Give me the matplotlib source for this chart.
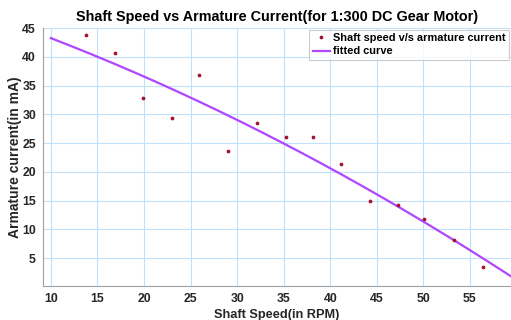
import numpy as np
import matplotlib
matplotlib.use("Agg")
import matplotlib.pyplot as plt

plt.rcParams['font.family'] = ['Liberation Sans', 'DejaVu Sans']

speed = [13.8, 16.9, 19.9, 23.0, 25.9, 29.0, 32.1, 35.2, 38.1, 41.2, 44.3, 47.3, 50.1, 53.3, 56.4]
current = [43.8, 40.6, 32.9, 29.4, 36.8, 23.7, 28.5, 26.1, 26.0, 21.3, 14.9, 14.2, 11.8, 8.2, 3.5]
xticks = [10, 15, 20, 25, 30, 35, 40, 45, 50, 55]
yticks = [5, 10, 15, 20, 25, 30, 35, 40, 45]

coef = np.polyfit(speed, current, 2)
xf = np.linspace(10, 59.5, 200)
yf = np.polyval(coef, xf)

fig = plt.figure(figsize=(5.11, 3.2), dpi=100)
ax = fig.add_axes([0.084, 0.107, 0.916, 0.805])

ax.plot(speed, current, linestyle='none', marker='o', markersize=1.7,
        color='#a2142f', label='Shaft speed v/s armature current', zorder=3)
ax.plot(xf, yf, color='#b046ff', lw=1.6, label='fitted curve', zorder=2)

ax.set_xlim(9.15, 59.4)
ax.set_ylim(0.2, 45)
ax.set_xticks(xticks)
ax.set_yticks(yticks)
ax.grid(True, color='#bfe1fb', lw=0.8)
ax.set_axisbelow(True)
for s in ['top', 'right']:
    ax.spines[s].set_visible(False)
for s in ['left', 'bottom']:
    ax.spines[s].set_color('#a0a0a0')
ax.tick_params(length=0, labelsize=8.8, colors='#262626', pad=5)
for lab in ax.get_xticklabels() + ax.get_yticklabels():
    lab.set_fontweight('bold')

ax.set_title('Shaft Speed vs Armature Current(for 1:300 DC Gear Motor)',
             fontsize=10.4, fontweight='bold', pad=5)
ax.set_xlabel('Shaft Speed(in RPM)', fontsize=9.2, fontweight='bold', labelpad=3, color='#262626')
ax.set_ylabel('Armature current(in mA)', fontsize=10, fontweight='bold', color='#262626')
ax.yaxis.set_label_coords(-0.045, 0.5)

leg = ax.legend(loc='upper right', prop={'weight': 'bold', 'size': 7.9},
                frameon=True, fancybox=False, borderaxespad=0.15,
                handlelength=1.6, handletextpad=0.3, borderpad=0.3,
                labelspacing=0.3, markerscale=1.0)
leg.get_frame().set_edgecolor('#c0c0c0')
leg.get_frame().set_linewidth(0.8)

fig.savefig('out.png', dpi=100)
